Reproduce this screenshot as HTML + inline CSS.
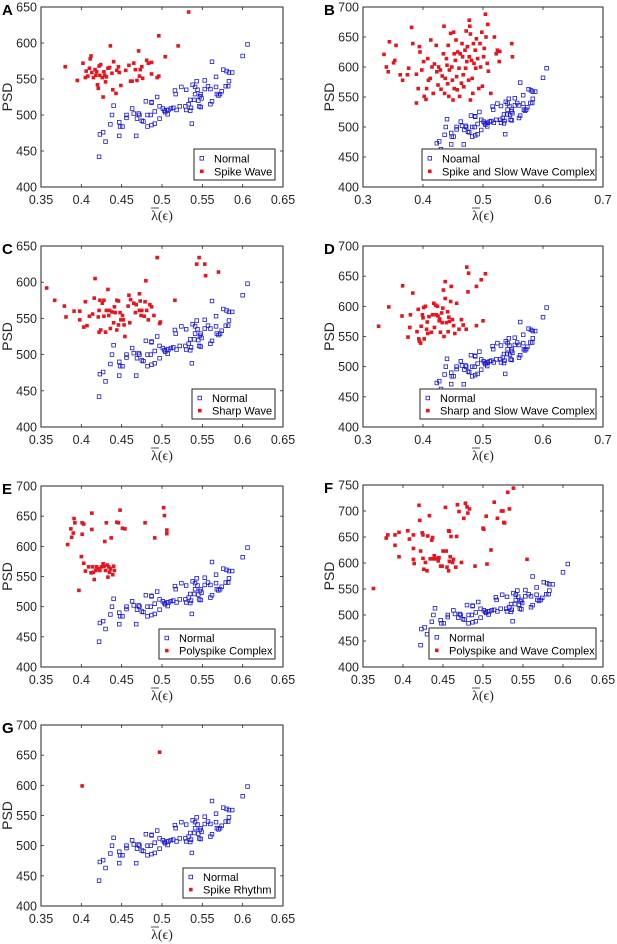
<!DOCTYPE html>
<html><head><meta charset="utf-8"><style>
body{margin:0;background:#fff;}
svg{display:block;font-family:"Liberation Sans",sans-serif;}
</style></head><body>
<svg id="fig" width="617" height="944" viewBox="0 0 617 944" xmlns="http://www.w3.org/2000/svg"></svg>
<script>
const normalX=[0.422,0.423,0.427,0.430,0.436,0.438,0.440,0.447,0.448,0.451,0.447,0.456,0.456,0.463,0.465,0.469,0.468,0.471,0.472,0.475,0.477,0.480,0.482,0.482,0.486,0.487,0.487,0.487,0.491,0.491,0.494,0.497,0.497,0.501,0.503,0.504,0.506,0.507,0.508,0.511,0.514,0.516,0.517,0.518,0.522,0.524,0.529,0.530,0.530,0.533,0.535,0.535,0.536,0.537,0.538,0.540,0.541,0.541,0.543,0.544,0.545,0.546,0.547,0.548,0.549,0.548,0.553,0.553,0.557,0.560,0.560,0.562,0.562,0.567,0.567,0.568,0.570,0.572,0.574,0.576,0.580,0.579,0.583,0.582,0.583,0.587,0.600,0.606];
const normalY=[442,473,476,463,487,500,513,490,484,484,471,500,496,509,502,495,471,502,500,492,491,519,500,484,500,486,518,517,505,488,525,495,512,509,506,504,507,501,507,509,510,534,529,507,512,539,512,507,535,515,521,506,510,488,542,521,529,539,547,535,520,512,526,529,523,511,548,536,540,536,515,519,574,539,553,529,527,529,533,563,561,540,547,540,559,559,582,598];
const redAX=[0.380,0.395,0.402,0.405,0.406,0.408,0.410,0.411,0.412,0.413,0.415,0.417,0.418,0.419,0.420,0.421,0.422,0.423,0.424,0.426,0.427,0.428,0.429,0.430,0.431,0.433,0.435,0.436,0.438,0.439,0.440,0.443,0.444,0.446,0.447,0.449,0.455,0.459,0.461,0.463,0.465,0.467,0.469,0.471,0.472,0.473,0.475,0.476,0.481,0.483,0.487,0.487,0.494,0.496,0.496,0.504,0.520,0.533];
const redAY=[567,548,572,552,561,554,565,578,582,559,552,563,555,560,542,537,568,555,570,552,525,560,555,546,553,565,566,596,558,535,574,530,562,567,559,541,562,569,547,547,572,563,548,589,554,563,567,551,576,572,573,557,552,610,554,581,596,643];
const redBX=[0.335,0.339,0.342,0.344,0.351,0.353,0.355,0.362,0.366,0.374,0.376,0.381,0.383,0.389,0.389,0.392,0.394,0.395,0.398,0.401,0.402,0.405,0.406,0.408,0.409,0.412,0.413,0.415,0.417,0.419,0.422,0.423,0.425,0.426,0.429,0.430,0.432,0.434,0.435,0.436,0.437,0.439,0.440,0.441,0.442,0.443,0.444,0.446,0.448,0.449,0.450,0.451,0.452,0.452,0.454,0.455,0.456,0.457,0.458,0.460,0.461,0.462,0.464,0.465,0.466,0.467,0.468,0.470,0.471,0.472,0.473,0.474,0.476,0.477,0.477,0.478,0.479,0.479,0.481,0.482,0.483,0.484,0.485,0.487,0.488,0.489,0.491,0.493,0.495,0.496,0.498,0.499,0.501,0.502,0.504,0.505,0.507,0.508,0.509,0.513,0.519,0.522,0.524,0.527,0.528,0.548,0.549];
const redBY=[621,600,592,642,607,611,636,587,578,587,598,666,639,540,588,564,634,625,595,609,551,546,564,614,578,581,645,600,556,605,636,592,570,600,595,563,585,622,668,556,581,614,603,572,636,551,595,656,600,578,545,658,564,622,611,645,584,562,625,598,551,622,573,639,617,587,567,628,598,660,609,634,578,678,617,668,545,655,611,581,556,639,606,628,598,647,614,564,639,600,658,568,617,631,688,650,606,671,593,556,650,622,628,609,626,639,617];
const redCX=[0.357,0.367,0.379,0.381,0.391,0.398,0.398,0.403,0.405,0.407,0.410,0.414,0.416,0.417,0.421,0.422,0.422,0.423,0.424,0.426,0.428,0.428,0.430,0.431,0.433,0.434,0.435,0.436,0.438,0.440,0.441,0.442,0.444,0.444,0.446,0.446,0.448,0.449,0.451,0.452,0.453,0.454,0.458,0.459,0.460,0.461,0.465,0.467,0.468,0.472,0.472,0.473,0.474,0.475,0.478,0.479,0.480,0.481,0.483,0.485,0.487,0.490,0.494,0.497,0.498,0.516,0.543,0.546,0.553,0.554,0.570];
const redCY=[592,575,567,552,560,548,560,538,573,540,553,556,578,605,552,561,531,575,534,571,575,553,531,561,590,554,561,536,559,544,566,558,534,575,574,541,558,548,554,548,541,525,567,582,544,576,571,558,569,584,561,574,554,561,553,573,602,561,548,569,566,554,634,543,545,575,625,634,625,609,614];
const redDX=[0.326,0.343,0.365,0.366,0.375,0.378,0.379,0.383,0.390,0.392,0.393,0.394,0.396,0.397,0.399,0.400,0.401,0.402,0.404,0.406,0.407,0.408,0.410,0.414,0.416,0.418,0.419,0.421,0.422,0.424,0.425,0.427,0.428,0.429,0.431,0.432,0.433,0.434,0.435,0.437,0.437,0.439,0.441,0.442,0.443,0.444,0.446,0.447,0.449,0.451,0.453,0.456,0.460,0.464,0.467,0.472,0.473,0.476,0.475,0.489,0.489,0.497,0.500,0.504];
const redDY=[567,599,584,634,549,565,586,622,558,595,546,542,539,567,586,581,598,546,600,562,574,555,583,557,586,605,565,602,586,600,584,576,579,557,589,573,597,627,550,641,613,573,591,558,582,575,608,633,578,568,555,605,562,578,569,562,665,655,624,568,633,644,576,654];
const redEX=[0.383,0.387,0.388,0.390,0.391,0.392,0.397,0.400,0.401,0.401,0.403,0.403,0.405,0.409,0.412,0.413,0.413,0.414,0.415,0.416,0.418,0.419,0.421,0.423,0.425,0.427,0.428,0.429,0.430,0.431,0.432,0.433,0.434,0.435,0.436,0.437,0.439,0.440,0.441,0.444,0.446,0.448,0.451,0.454,0.479,0.491,0.502,0.503,0.506,0.506];
const redEY=[603,629,615,622,646,639,527,583,639,620,637,572,559,566,556,655,628,566,557,545,560,566,563,560,566,571,567,608,560,639,569,549,566,557,563,614,553,567,560,640,639,660,630,629,639,614,664,651,621,627];
const redFX=[0.363,0.379,0.381,0.390,0.390,0.395,0.395,0.406,0.408,0.413,0.413,0.413,0.414,0.420,0.421,0.422,0.424,0.425,0.425,0.426,0.428,0.430,0.431,0.433,0.434,0.436,0.437,0.438,0.439,0.440,0.442,0.444,0.445,0.447,0.449,0.450,0.453,0.454,0.455,0.457,0.457,0.458,0.458,0.459,0.460,0.462,0.463,0.466,0.467,0.468,0.470,0.473,0.476,0.478,0.480,0.481,0.483,0.490,0.500,0.501,0.504,0.505,0.510,0.514,0.518,0.523,0.525,0.526,0.527,0.531,0.533,0.538,0.555];
const redFY=[551,648,654,634,654,659,612,662,646,654,628,607,599,711,682,623,658,654,609,588,601,585,652,691,608,644,649,608,614,608,609,604,610,594,594,623,707,623,592,662,585,661,603,612,651,601,607,592,651,712,699,601,686,715,708,696,704,594,667,665,690,598,625,717,686,700,700,678,677,736,704,744,607];
const redGX=[0.401,0.497];
const redGY=[599,655];
const xTicks65=[0.35,0.4,0.45,0.5,0.55,0.6,0.65];
const xTicks7=[0.3,0.4,0.5,0.6,0.7];
const yTicks650=[400,450,500,550,600,650];
const yTicks700=[400,450,500,550,600,650,700];
const yTicks750=[400,450,500,550,600,650,700,750];

const NS='http://www.w3.org/2000/svg';
const fig=document.getElementById('fig');
function mk(tag,attrs,parent){const e=document.createElementNS(NS,tag);for(const k in attrs)e.setAttribute(k,attrs[k]);(parent||fig).appendChild(e);return e;}

const panels=[
 {id:'a',L:'A',l:41,r:283,t:7,b:187,xt:xTicks65,yt:yTicks650,rx:redAX,ry:redAY,n1:'Normal',n2:'Spike Wave',lg:[194,149,275,180]},
 {id:'b',L:'B',l:363,r:603,t:7,b:187,xt:xTicks7,yt:yTicks700,rx:redBX,ry:redBY,n1:'Noamal',n2:'Spike and Slow Wave Complex',lg:[422,149,596,180]},
 {id:'c',L:'C',l:41,r:283,t:246,b:427,xt:xTicks65,yt:yTicks650,rx:redCX,ry:redCY,n1:'Normal',n2:'Sharp Wave',lg:[192,389,275,419]},
 {id:'d',L:'D',l:363,r:603,t:246,b:427,xt:xTicks7,yt:yTicks700,rx:redDX,ry:redDY,n1:'Normal',n2:'Sharp and Slow Wave Complex',lg:[420,389,596,419]},
 {id:'e',L:'E',l:41,r:283,t:486,b:667,xt:xTicks65,yt:yTicks700,rx:redEX,ry:redEY,n1:'Normal',n2:'Polyspike Complex',lg:[159,629,275,659]},
 {id:'f',L:'F',l:363,r:603,t:485,b:667,xt:xTicks65,yt:yTicks750,rx:redFX,ry:redFY,n1:'Normal',n2:'Polyspike and Wave Complex',lg:[429,628,596,659]},
 {id:'g',L:'G',l:41,r:283,t:725,b:906,xt:xTicks65,yt:yTicks700,rx:redGX,ry:redGY,n1:'Normal',n2:'Spike Rhythm',lg:[183,868,275,898]}
];

panels.forEach(p=>{
 const g=mk('g',{});
 
 
 const x0=p.xt[0],x1=p.xt[p.xt.length-1],y0=p.yt[0],y1=p.yt[p.yt.length-1];
 const sx=v=>p.l+(v-x0)/(x1-x0)*(p.r-p.l);
 const sy=v=>p.b-(v-y0)/(y1-y0)*(p.b-p.t);
 const lt=mk('text',{x:p.l-39,y:p.t+8,'font-size':15,'font-weight':'bold',fill:'#000'},g);lt.textContent=p.L;
 
 
 const ax=mk('rect',{x:p.l,y:p.t,width:p.r-p.l,height:p.b-p.t,fill:'#fff',stroke:'#262626','stroke-width':1},g);
 
 
 p.xt.forEach(v=>{
  const X=sx(v);
  mk('line',{x1:X,y1:p.b,x2:X,y2:p.b-3,stroke:'#262626','stroke-width':0.8},g);
  mk('line',{x1:X,y1:p.t,x2:X,y2:p.t+3,stroke:'#262626','stroke-width':0.8},g);
  const t=mk('text',{x:X,y:p.b+17,'font-size':12.5,'text-anchor':'middle',fill:'#262626'},g);
  t.textContent=String(v);
  
  
 });
 p.yt.forEach(v=>{
  const Y=sy(v);
  mk('line',{x1:p.l,y1:Y,x2:p.l+3,y2:Y,stroke:'#262626','stroke-width':0.8},g);
  mk('line',{x1:p.r,y1:Y,x2:p.r-3,y2:Y,stroke:'#262626','stroke-width':0.8},g);
  const t=mk('text',{x:p.l-4,y:Y+4.5,'font-size':12.5,'text-anchor':'end',fill:'#262626'},g);
  t.textContent=String(v);
  
  
 });
 const yl=mk('text',{x:0,y:0,'font-size':14,'text-anchor':'middle',fill:'#262626',transform:`translate(${p.l-29},${(p.t+p.b)/2}) rotate(-90)`},g);
 yl.textContent='PSD';
 
 
 const cx=(p.l+p.r)/2;
 const xl=mk('text',{x:cx,y:p.b+33,'font-size':14,'text-anchor':'middle',fill:'#262626','font-family':'"Liberation Serif",serif'},g);
 xl.textContent='λ(ϵ)';
 
 
 mk('line',{x1:cx-11,y1:p.b+21,x2:cx-3,y2:p.b+21,stroke:'#262626','stroke-width':0.8},g);
 normalX.forEach((v,i)=>{
  const m=mk('rect',{x:sx(v)-1.8,y:sy(normalY[i])-1.8,width:3.6,height:3.6,fill:'none',stroke:'#1a1ad6','stroke-width':0.8},g);
  
  
 });
 p.rx.forEach((v,i)=>{
  const m=mk('rect',{x:sx(v)-1.8,y:sy(p.ry[i])-1.8,width:3.6,height:3.6,fill:'#e8141e'},g);
  
  
 });
 const [a,b,c,d]=p.lg;
 const lb=mk('rect',{x:a,y:b,width:c-a,height:d-b,fill:'#fff',stroke:'#262626','stroke-width':1},g);
 
 
 const r1=b+(d-b)*0.3,r2=b+(d-b)*0.72;
 mk('rect',{x:a+6,y:r1-1.8,width:3.6,height:3.6,fill:'none',stroke:'#1a1ad6','stroke-width':0.8},g);
 mk('rect',{x:a+6,y:r2-1.8,width:3.6,height:3.6,fill:'#e8141e'},g);
 const t1=mk('text',{x:a+20,y:r1+4,'font-size':11,fill:'#000'},g);t1.textContent=p.n1;
 
 
 const t2=mk('text',{x:a+20,y:r2+4,'font-size':11,fill:'#000'},g);t2.textContent=p.n2;
 
 
});
</script>
</body></html>
